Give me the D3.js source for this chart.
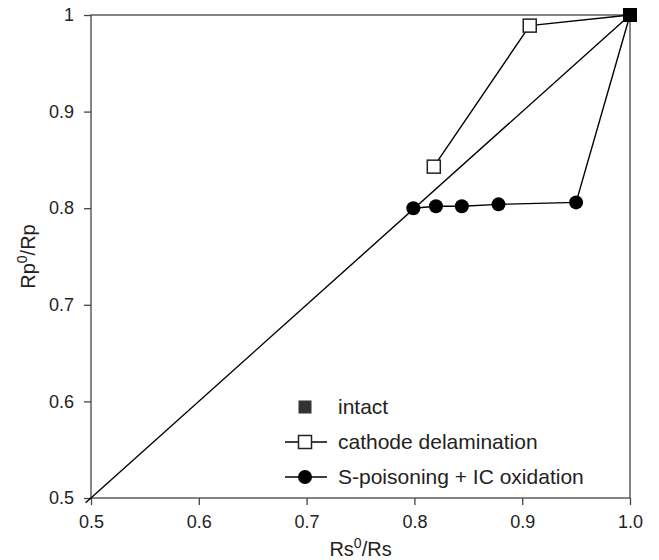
<!DOCTYPE html>
<html lang="en">
<head>
	<meta charset="UTF-8">
	<script src="https://cdn.jsdelivr.net/npm/d3@7"></script>
	<title>Rp0/Rp vs Rs0/Rs</title>
<style>
body { margin: 0; background: #fff; }
svg text { font-family: "Liberation Sans", Arial, sans-serif; fill: #222; }
</style>
</head>
<body>
<div id="chart"></div>
<script>
	// data
	let intact = [[1.0, 1.0]]
	let cathode = [[1.0, 1.0], [0.907, 0.989], [0.818, 0.843]]
	let poison = [[1.0, 1.0], [0.950, 0.806], [0.878, 0.804], [0.844, 0.802], [0.820, 0.802], [0.799, 0.800]]
	let diagonal = [[0.495, 0.495], [1.0, 1.0]]
	let xTicks = [0.5, 0.6, 0.7, 0.8, 0.9, 1.0]
	let yTicks = [0.5, 0.6, 0.7, 0.8, 0.9, 1.0]
	let legendNames = ['intact', 'cathode delamination', 'S-poisoning + IC oxidation']

	let W = 659, H = 560
	let m = { top: 15, right: 29, bottom: 62, left: 91 }
	let w = W - m.left - m.right, h = H - m.top - m.bottom

	let svg = d3.select('#chart').append('svg')
		.attr('width', W)
		.attr('height', H)
	let g = svg.append('g').attr('transform', `translate(${m.left},${m.top})`)

	let x = d3.scaleLinear().domain([0.5, 1.0]).range([0, w])
	let y = d3.scaleLinear().domain([0.5, 1.0]).range([h, 0])

	// frame
	g.append('rect')
		.attr('width', w).attr('height', h)
		.attr('fill', 'none').attr('stroke', '#444').attr('stroke-width', 1.3)

	let xAxis = g.append('g').attr('transform', `translate(0,${h})`)
		.call(d3.axisBottom(x).tickValues(xTicks).tickFormat(d3.format('.1f')).tickSize(7).tickPadding(10))
	let yAxis = g.append('g')
		.call(d3.axisLeft(y).tickValues(yTicks).tickFormat(d => d === 1 ? '1' : d3.format('.1f')(d)).tickSize(7).tickPadding(10))
	for (let ax of [xAxis, yAxis]) {
		ax.select('.domain').remove()
		ax.selectAll('line').attr('stroke', '#444').attr('stroke-width', 1.3)
		ax.selectAll('text').attr('font-size', 18).attr('fill', '#222')
			.attr('font-family', '"Liberation Sans", Arial, sans-serif')
	}

	// axis titles
	let xt = svg.append('text')
		.attr('x', m.left + w / 2).attr('y', 556)
		.attr('text-anchor', 'middle').attr('font-size', 20)
	xt.append('tspan').text('Rs')
	xt.append('tspan').attr('baseline-shift', 'super').attr('font-size', 14).text('0')
	xt.append('tspan').text('/Rs')

	let yt = svg.append('text')
		.attr('transform', `translate(35,${m.top + h / 2}) rotate(-90)`)
		.attr('text-anchor', 'middle').attr('font-size', 20)
	yt.append('tspan').text('Rp')
	yt.append('tspan').attr('baseline-shift', 'super').attr('font-size', 14).text('0')
	yt.append('tspan').text('/Rp')

	let line = d3.line().x(d => x(d[0])).y(d => y(d[1]))
	let lineStyle = sel => sel.attr('fill', 'none').attr('stroke', '#000').attr('stroke-width', 1.4)

	g.append('path').datum(diagonal).attr('d', line).call(lineStyle)
	g.append('path').datum(cathode).attr('d', line).call(lineStyle)
	g.append('path').datum(poison).attr('d', line).call(lineStyle)

	// markers
	g.selectAll('.cat').data(cathode.slice(1)).enter().append('rect')
		.attr('x', d => x(d[0]) - 6.5).attr('y', d => y(d[1]) - 6.5)
		.attr('width', 13).attr('height', 13)
		.attr('fill', '#fff').attr('stroke', '#222').attr('stroke-width', 1.5)
	g.selectAll('.poi').data(poison.slice(1)).enter().append('circle')
		.attr('cx', d => x(d[0])).attr('cy', d => y(d[1])).attr('r', 7)
		.attr('fill', '#000')
	g.selectAll('.int').data(intact).enter().append('rect')
		.attr('x', d => x(d[0]) - 7).attr('y', d => y(d[1]) - 7)
		.attr('width', 14).attr('height', 14)
		.attr('fill', '#000')

	// legend
	let leg = svg.append('g').attr('transform', 'translate(305,407)')
	let rows = leg.selectAll('g').data(legendNames).enter().append('g')
		.attr('transform', (d, i) => `translate(0,${i * 35})`)
	rows.filter((d, i) => i > 0).append('line')
		.attr('x1', -20).attr('x2', 22).attr('stroke', '#000').attr('stroke-width', 1.4)
	rows.each(function (d, i) {
		let r = d3.select(this)
		if (i === 0) r.append('rect').attr('x', -6.5).attr('y', -6.5).attr('width', 13).attr('height', 13).attr('fill', '#333')
		if (i === 1) r.append('rect').attr('x', -6.5).attr('y', -6.5).attr('width', 13).attr('height', 13)
			.attr('fill', '#fff').attr('stroke', '#222').attr('stroke-width', 1.5)
		if (i === 2) r.append('circle').attr('r', 7).attr('fill', '#000')
	})
	rows.append('text').attr('x', 33).attr('dy', '0.35em').attr('font-size', 21).text(d => d)
</script>
</body>
</html>
